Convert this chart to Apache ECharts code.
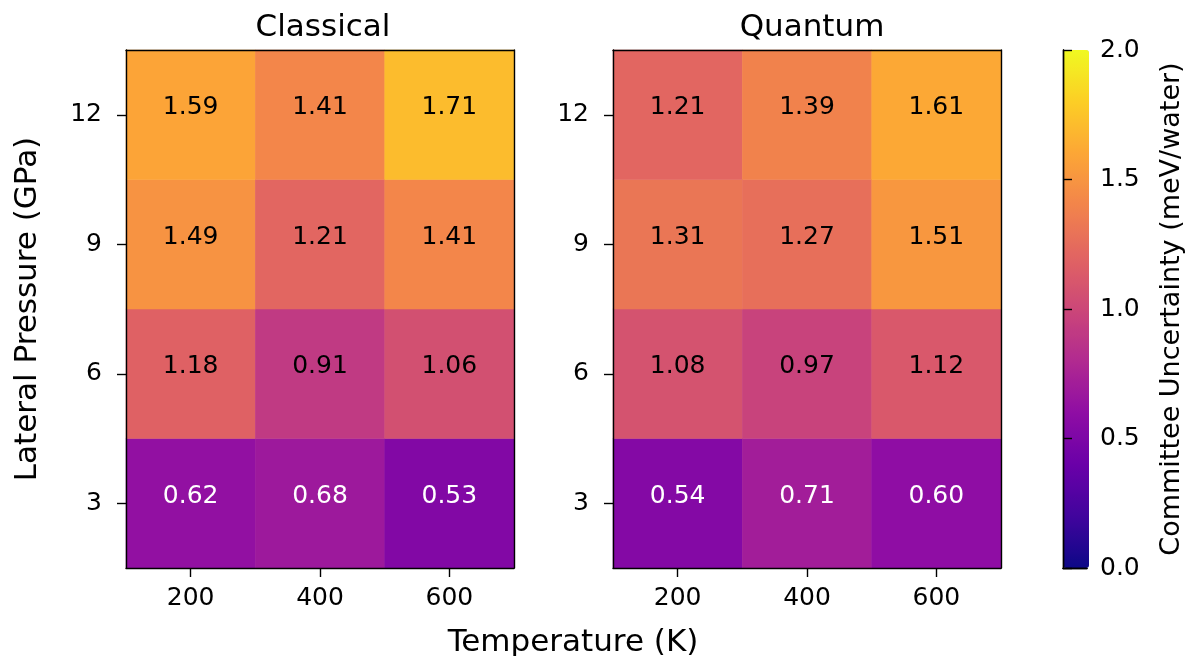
<!DOCTYPE html>
<html><head><meta charset="utf-8">
<script src="https://cdn.jsdelivr.net/npm/echarts@6/dist/echarts.min.js"></script>
<style>html,body{margin:0;padding:0;background:#fff}#c{width:1186px;height:656px}</style>
</head><body><div id="c"></div>
<script>
const temperatures = ['200', '400', '600'];
const pressures = ['3', '6', '9', '12'];
// rows follow pressures (3,6,9,12), columns follow temperatures
const classical = [
  [0.62, 0.68, 0.53],
  [1.18, 0.91, 1.06],
  [1.49, 1.21, 1.41],
  [1.59, 1.41, 1.71]
];
const quantum = [
  [0.54, 0.71, 0.60],
  [1.08, 0.97, 1.12],
  [1.31, 1.27, 1.51],
  [1.21, 1.39, 1.61]
];
const colorTicks = [0, 0.5, 1.0, 1.5, 2.0];
const plasma = ['#0d0887','#41049d','#6a00a8','#8f0da4','#b12a90','#cc4778','#e16462','#f2844b','#fca636','#fcce25','#f0f921'];

const FONT = 'DejaVu Sans';
const TICK_FS = 25, BIG_FS = 31, CB_FS = 27;
function toData(m) {
  const out = [];
  m.forEach((row, yi) => row.forEach((v, xi) => {
    out.push({ value: [xi, yi, v], label: { color: v < 0.8 ? '#ffffff' : '#000000' } });
  }));
  return out;
}
const plots = [
  { left: 126, title: 'Classical', data: classical },
  { left: 613, title: 'Quantum', data: quantum }
];
const W = 388, TOP = 50, H = 518;
const grid = [], xAxis = [], yAxis = [], series = [];
const lineStyle = { color: '#000', width: 1.4 };
plots.forEach((p, i) => {
  grid.push({ left: p.left, top: TOP, width: W, height: H, containLabel: false });
  xAxis.push({
    type: 'category', data: temperatures, gridIndex: i, position: 'bottom', z: 5,
    axisLine: { show: true, lineStyle }, axisTick: { show: true, alignWithLabel: true, length: 9, lineStyle },
    axisLabel: { color: '#000', fontSize: TICK_FS, fontFamily: FONT, margin: 18 }, splitLine: { show: false }
  });
  xAxis.push({
    type: 'category', data: temperatures, gridIndex: i, position: 'top', z: 5,
    axisLine: { show: true, lineStyle }, axisTick: { show: false }, axisLabel: { show: false }
  });
  yAxis.push({
    type: 'category', data: pressures, gridIndex: i, position: 'left', z: 5,
    axisLine: { show: true, lineStyle }, axisTick: { show: true, alignWithLabel: true, length: 9, lineStyle },
    axisLabel: { color: '#000', fontSize: TICK_FS, fontFamily: FONT, margin: 24 },
    name: i === 0 ? 'Lateral Pressure (GPa)' : '', nameLocation: 'middle', nameGap: 83,
    nameTextStyle: { color: '#000', fontSize: BIG_FS, fontFamily: FONT }
  });
  yAxis.push({
    type: 'category', data: pressures, gridIndex: i, position: 'right', z: 5,
    axisLine: { show: true, lineStyle }, axisTick: { show: false }, axisLabel: { show: false }
  });
  series.push({
    type: 'heatmap', xAxisIndex: i * 2, yAxisIndex: i * 2, data: toData(p.data),
    label: { show: true, fontSize: TICK_FS, fontFamily: FONT, offset: [0, -7], formatter: (q) => q.value[2].toFixed(2) },
    itemStyle: { borderWidth: 0 }, emphasis: { disabled: true }, progressive: 0
  });
});
// colorbar axes
grid.push({ left: 1063, top: TOP, width: 26, height: H });
xAxis.push({ type: 'value', gridIndex: 2, min: 0, max: 1, position: 'bottom', z: 10,
  axisLine: { show: true, lineStyle }, axisTick: { show: false }, axisLabel: { show: false }, splitLine: { show: false } });
xAxis.push({ type: 'value', gridIndex: 2, min: 0, max: 1, position: 'top', z: 10,
  axisLine: { show: true, lineStyle }, axisTick: { show: false }, axisLabel: { show: false }, splitLine: { show: false } });
yAxis.push({ type: 'value', gridIndex: 2, min: colorTicks[0], max: colorTicks[colorTicks.length - 1], interval: 0.5, position: 'right', z: 10,
  axisLine: { show: true, lineStyle }, axisTick: { show: true, length: 9, lineStyle },
  axisLabel: { color: '#000', fontSize: TICK_FS, fontFamily: FONT, margin: 13, formatter: (v) => v.toFixed(1) },
  splitLine: { show: false },
  name: 'Committee Uncertainty (meV/water)', nameLocation: 'middle', nameRotate: 90, nameGap: 71,
  nameTextStyle: { color: '#000', fontSize: CB_FS, fontFamily: FONT } });
yAxis.push({ type: 'value', gridIndex: 2, min: 0, max: 2, position: 'left', z: 10,
  axisLine: { show: true, lineStyle }, axisTick: { show: false }, axisLabel: { show: false }, splitLine: { show: false } });

const chart = echarts.init(document.getElementById('c'), null, { renderer: 'canvas' });
const titleStyle = { color: '#000', fontSize: BIG_FS, fontWeight: 'normal', fontFamily: FONT };
chart.setOption({
  animation: false,
  backgroundColor: '#fff',
  title: [
    { text: 'Classical', left: 126 + W / 2 - 2, top: 7, textAlign: 'center', textStyle: titleStyle },
    { text: 'Quantum', left: 613 + W / 2, top: 7, textAlign: 'center', textStyle: titleStyle },
    { text: 'Temperature (K)', left: 568, top: 622, textAlign: 'center', textStyle: titleStyle }
  ],
  grid, xAxis, yAxis,
  visualMap: {
    type: 'continuous', min: 0, max: 2, seriesIndex: [0, 1], calculable: false, show: true,
    left: 1063, top: TOP, itemWidth: 26, itemHeight: H, padding: 0, text: null, showLabel: false,
    inRange: { color: plasma }, textStyle: { fontSize: 0 }, hoverLink: false
  },
  series
});
</script></body></html>
